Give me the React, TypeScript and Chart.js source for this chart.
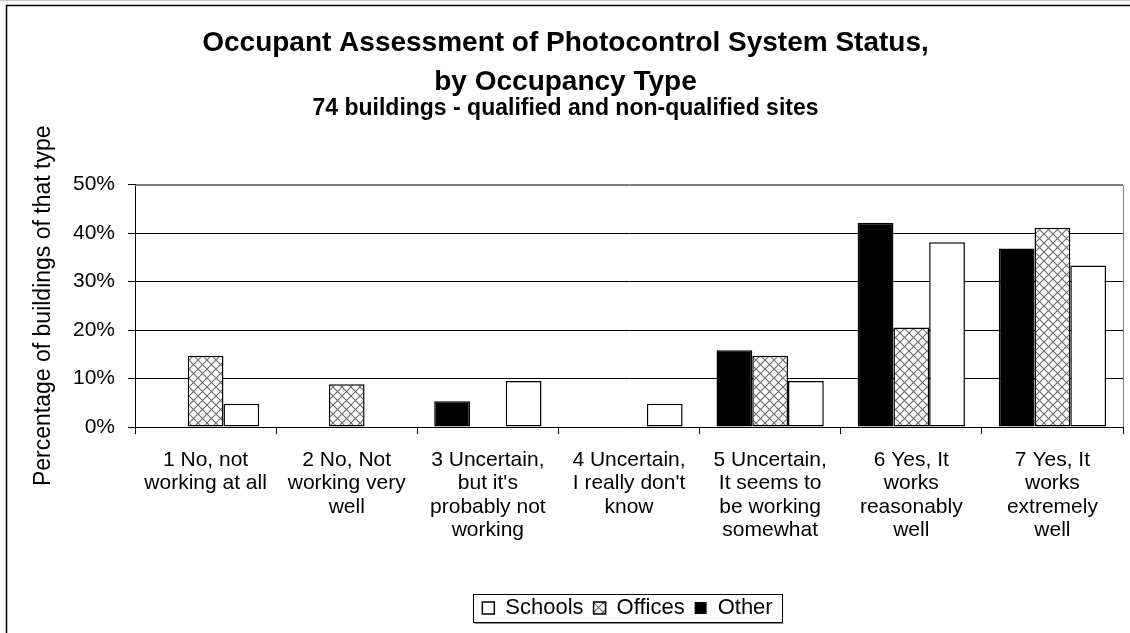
import { useEffect, useRef } from "react";
import { Chart, registerables } from "chart.js";

Chart.register(...registerables);

const FONT = "'Liberation Sans', Arial, Helvetica, sans-serif";

const titleLines = [
  "Occupant Assessment of Photocontrol System Status,",
  "by Occupancy Type",
];
const subtitleText = "74 buildings - qualified and non-qualified sites";
const yAxisTitle = "Percentage of buildings of that type";

const categories = [
  ["1 No, not", "working at all"],
  ["2 No, Not", "working very", "well"],
  ["3 Uncertain,", "but it's", "probably not", "working"],
  ["4 Uncertain,", "I really don't", "know"],
  ["5 Uncertain,", "It seems to", "be working", "somewhat"],
  ["6 Yes, It", "works", "reasonably", "well"],
  ["7 Yes, It", "works", "extremely", "well"],
];

const seriesNames = ["Other", "Offices", "Schools"];
const otherValues = [0, 0, 5.3, 0, 15.8, 42.1, 36.8];
const officesValues = [14.7, 8.8, 0, 0, 14.7, 20.5, 41.1];
const schoolsValues = [4.8, 0, 9.5, 4.8, 9.5, 38.1, 33.3];

const yTicks = [0, 10, 20, 30, 40, 50];

function makeHatch(): CanvasPattern | string {
  const c = document.createElement("canvas");
  const s = 9;
  c.width = s;
  c.height = s;
  const g = c.getContext("2d");
  if (!g) return "#ffffff";
  g.fillStyle = "#ffffff";
  g.fillRect(0, 0, s, s);
  g.strokeStyle = "#6a6a6a";
  g.lineWidth = 1.1;
  g.beginPath();
  g.moveTo(-1, -1);
  g.lineTo(s + 1, s + 1);
  g.moveTo(s + 1, -1);
  g.lineTo(-1, s + 1);
  g.stroke();
  const p = g.createPattern(c, "repeat");
  return p || "#ffffff";
}

const LEGEND_SHIFT = 62;

const framePlugin = {
  id: "frameDecor",
  afterLayout(chart: any) {
    const lg = chart.legend;
    if (lg) {
      lg.left += LEGEND_SHIFT;
      lg.right += LEGEND_SHIFT;
    }
  },
  beforeDraw(chart: any) {
    const { ctx, width, height } = chart;
    ctx.save();
    ctx.fillStyle = "#ffffff";
    ctx.fillRect(0, 0, width, height);
    ctx.restore();
  },
  afterDraw(chart: any) {
    const { ctx, chartArea: a } = chart;
    ctx.save();
    // plot area border (top & right), gray
    ctx.strokeStyle = "#808080";
    ctx.lineWidth = 1;
    ctx.beginPath();
    ctx.moveTo(a.left, Math.round(a.top) + 0.5);
    ctx.lineTo(Math.round(a.right) + 0.5, Math.round(a.top) + 0.5);
    ctx.lineTo(Math.round(a.right) + 0.5, a.bottom);
    ctx.stroke();
    // outer chart frame
    ctx.strokeStyle = "#000000";
    ctx.lineWidth = 1.5;
    ctx.strokeRect(6.5, 5.5, 1300, 800);
    ctx.strokeStyle = "#c8c8c8";
    ctx.lineWidth = 1;
    ctx.beginPath();
    ctx.moveTo(0, 0.5);
    ctx.lineTo(chart.width, 0.5);
    ctx.stroke();
    // legend box
    const lg = chart.legend;
    if (lg && lg.legendHitBoxes && lg.legendHitBoxes.length) {
      const hb = lg.legendHitBoxes;
      let l = Infinity, r = -Infinity, t = Infinity, b = -Infinity;
      hb.forEach((h: any) => {
        l = Math.min(l, h.left);
        r = Math.max(r, h.left + h.width);
        t = Math.min(t, h.top);
        b = Math.max(b, h.top + h.height);
      });
      const x0 = Math.round(l - 9) + 0.5;
      const x1 = Math.round(r + 9) + 0.5;
      const y0 = Math.round(t - 3) + 0.5;
      const y1 = Math.round(b + 3) + 0.5;
      ctx.strokeStyle = "#000000";
      ctx.lineWidth = 1;
      ctx.strokeRect(x0, y0, x1 - x0, y1 - y0);
      ctx.strokeStyle = "#909090";
      ctx.beginPath();
      ctx.moveTo(x0 + 1, y1 + 1);
      ctx.lineTo(x1 + 1, y1 + 1);
      ctx.stroke();
    }
    ctx.restore();
  },
};

export default function App() {
  const ref = useRef<HTMLCanvasElement | null>(null);

  useEffect(() => {
    const canvas = ref.current;
    if (!canvas) return;
    const hatch = makeHatch();
    const fills = ["#000000", hatch, "#ffffff"];
    const values = [otherValues, officesValues, schoolsValues];

    const chart = new Chart(canvas, {
      type: "bar",
      data: {
        labels: categories,
        datasets: seriesNames.map((name, i) => ({
          label: name,
          data: values[i],
          backgroundColor: fills[i] as any,
          borderColor: "#000000",
          borderWidth: (c: any) => (c.raw ? 1.5 : 0),
          borderSkipped: false,
          categoryPercentage: 0.76,
          barPercentage: 1.0,
        })),
      },
      options: {
        responsive: false,
        animation: false,
        devicePixelRatio: 1,
        layout: { padding: { left: 8, right: 7, top: 0, bottom: 4 } },
        plugins: {
          title: {
            display: true,
            text: titleLines,
            color: "#000000",
            font: { family: FONT, size: 28, weight: "bold", lineHeight: 39 / 28 },
            padding: { top: 23.5, bottom: 0 },
          },
          subtitle: {
            display: true,
            text: subtitleText,
            color: "#000000",
            font: { family: FONT, size: 23, weight: "bold", lineHeight: 15 / 23 },
            padding: { top: 0, bottom: 68 },
          },
          legend: {
            display: true,
            position: "bottom",
            reverse: true,
            labels: {
              color: "#000000",
              font: { family: FONT, size: 22 },
              boxWidth: 12,
              boxHeight: 12,
              padding: 10,
            },
          },
          tooltip: { enabled: false },
        },
        scales: {
          x: {
            offset: true,
            grid: {
              display: true,
              offset: true,
              drawOnChartArea: false,
              drawTicks: true,
              tickLength: 7,
              color: "#000000",
              tickColor: "#000000",
            },
            border: { display: true, color: "#000000", width: 1 },
            ticks: {
              color: "#000000",
              font: { family: FONT, size: 21, lineHeight: 1.1 },
              padding: 15,
              maxRotation: 0,
              minRotation: 0,
              autoSkip: false,
            },
            afterFit: (s: any) => {
              s.height = 160;
            },
          },
          y: {
            min: 0,
            max: 50,
            afterBuildTicks: (s: any) => {
              s.ticks = yTicks.map((v) => ({ value: v }));
            },
            grid: {
              color: (c: any) => (c.tick && c.tick.value === 50 ? "#808080" : "#000000"),
              tickColor: "#000000",
              tickLength: 7,
              drawTicks: true,
            },
            border: { display: true, color: "#000000", width: 1 },
            ticks: {
              color: "#000000",
              font: { family: FONT, size: 21 },
              padding: 13,
              callback: (v: any) => v + "%",
            },
            title: {
              display: true,
              text: yAxisTitle,
              color: "#000000",
              font: { family: FONT, size: 23 },
              padding: { top: 22, bottom: 0 },
            },
            afterFit: (s: any) => {
              s.width = 127;
            },
          },
        },
      },
      plugins: [framePlugin],
    } as any);

    return () => {
      chart.destroy();
    };
  }, []);

  return (
    <div
      style={{
        position: "fixed",
        left: 0,
        top: 0,
        width: 1130,
        height: 633,
        background: "#ffffff",
      }}
    >
      <canvas ref={ref} width={1130} height={633} style={{ display: "block" }} />
    </div>
  );
}
